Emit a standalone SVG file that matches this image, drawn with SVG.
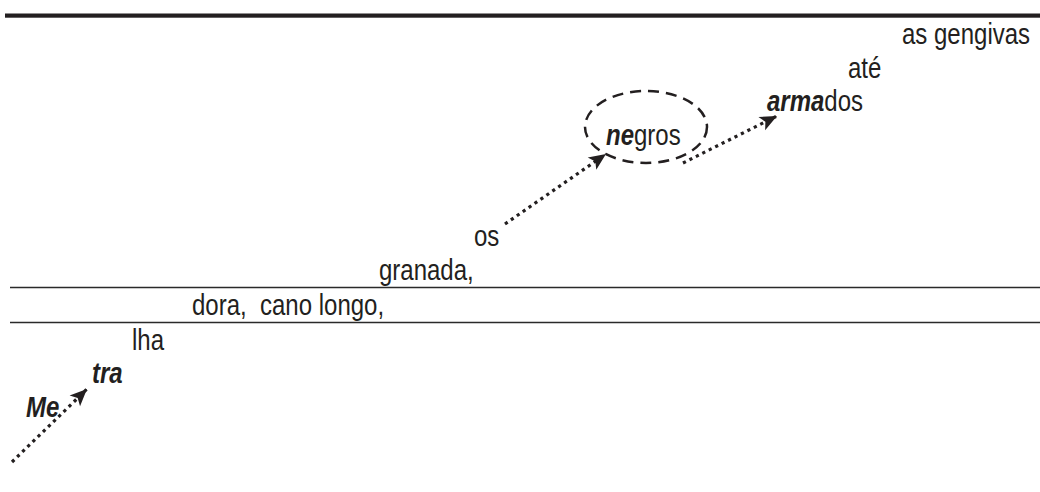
<svg xmlns="http://www.w3.org/2000/svg" width="1040" height="492" viewBox="0 0 1040 492">
  <style>
    .t { font-family: "Liberation Sans", Arial, sans-serif; font-size: 30px; fill: #231f20; }
    .b { font-weight: bold; font-style: italic; }
    .rule { stroke: #2a2a2a; stroke-width: 1.4; }
    .dots { fill: none; stroke: #231f20; stroke-width: 3.2; stroke-dasharray: 3.2 4; marker-end: url(#head); }
  </style>
  <defs>
    <marker id="head" markerUnits="userSpaceOnUse" markerWidth="22" markerHeight="22" viewBox="-20 -11 22 22" refX="0" refY="0" orient="auto">
      <path d="M0,0 L-17,-7.5 L-13,0 L-17,7.5 Z" fill="#231f20"/>
    </marker>
  </defs>
  <rect width="1040" height="492" fill="#fff"/>

  <!-- horizontal rules -->
  <g id="rules">
    <rect x="5" y="13.5" width="1035" height="4.2" fill="#231f20"/>
    <line class="rule" x1="10" y1="287.5" x2="1040" y2="287.5"/>
    <line class="rule" x1="10" y1="322.5" x2="1040" y2="322.5"/>
  </g>

  <!-- dotted connectors -->
  <g id="connectors">
    <path class="dots" d="M505,224 L606,154"/>
    <path class="dots" d="M683,163 L777,116"/>
    <path class="dots" d="M12,462 L87,389"/>
  </g>

  <g id="gengivas"><text class="t" transform="translate(902,44) scale(0.8,1)">as gengivas</text></g>
  <g id="ate"><text class="t" transform="translate(848,78) scale(0.8,1)">até</text></g>
  <g id="armados"><text class="t" transform="translate(767,111) scale(0.8,1)"><tspan class="b">arma</tspan>dos</text></g>
  <g id="negros">
    <ellipse cx="646" cy="127" rx="61" ry="36" fill="none" stroke="#231f20" stroke-width="2.5" stroke-dasharray="11 7"/>
    <text class="t" transform="translate(606,145) scale(0.8,1)"><tspan class="b">ne</tspan>gros</text>
  </g>
  <g id="os"><text class="t" transform="translate(474,246) scale(0.8,1)">os</text></g>
  <g id="granada"><text class="t" transform="translate(379,280) scale(0.8,1)">granada,</text></g>
  <g id="dora"><text class="t" transform="translate(192,315) scale(0.8,1)" xml:space="preserve">dora,  cano longo,</text></g>
  <g id="lha"><text class="t" transform="translate(132,350) scale(0.8,1)">lha</text></g>
  <g id="tra"><text class="t b" transform="translate(92,383) scale(0.8,1)">tra</text></g>
  <g id="me"><text class="t b" transform="translate(26,417) scale(0.8,1)">Me</text></g>
</svg>
